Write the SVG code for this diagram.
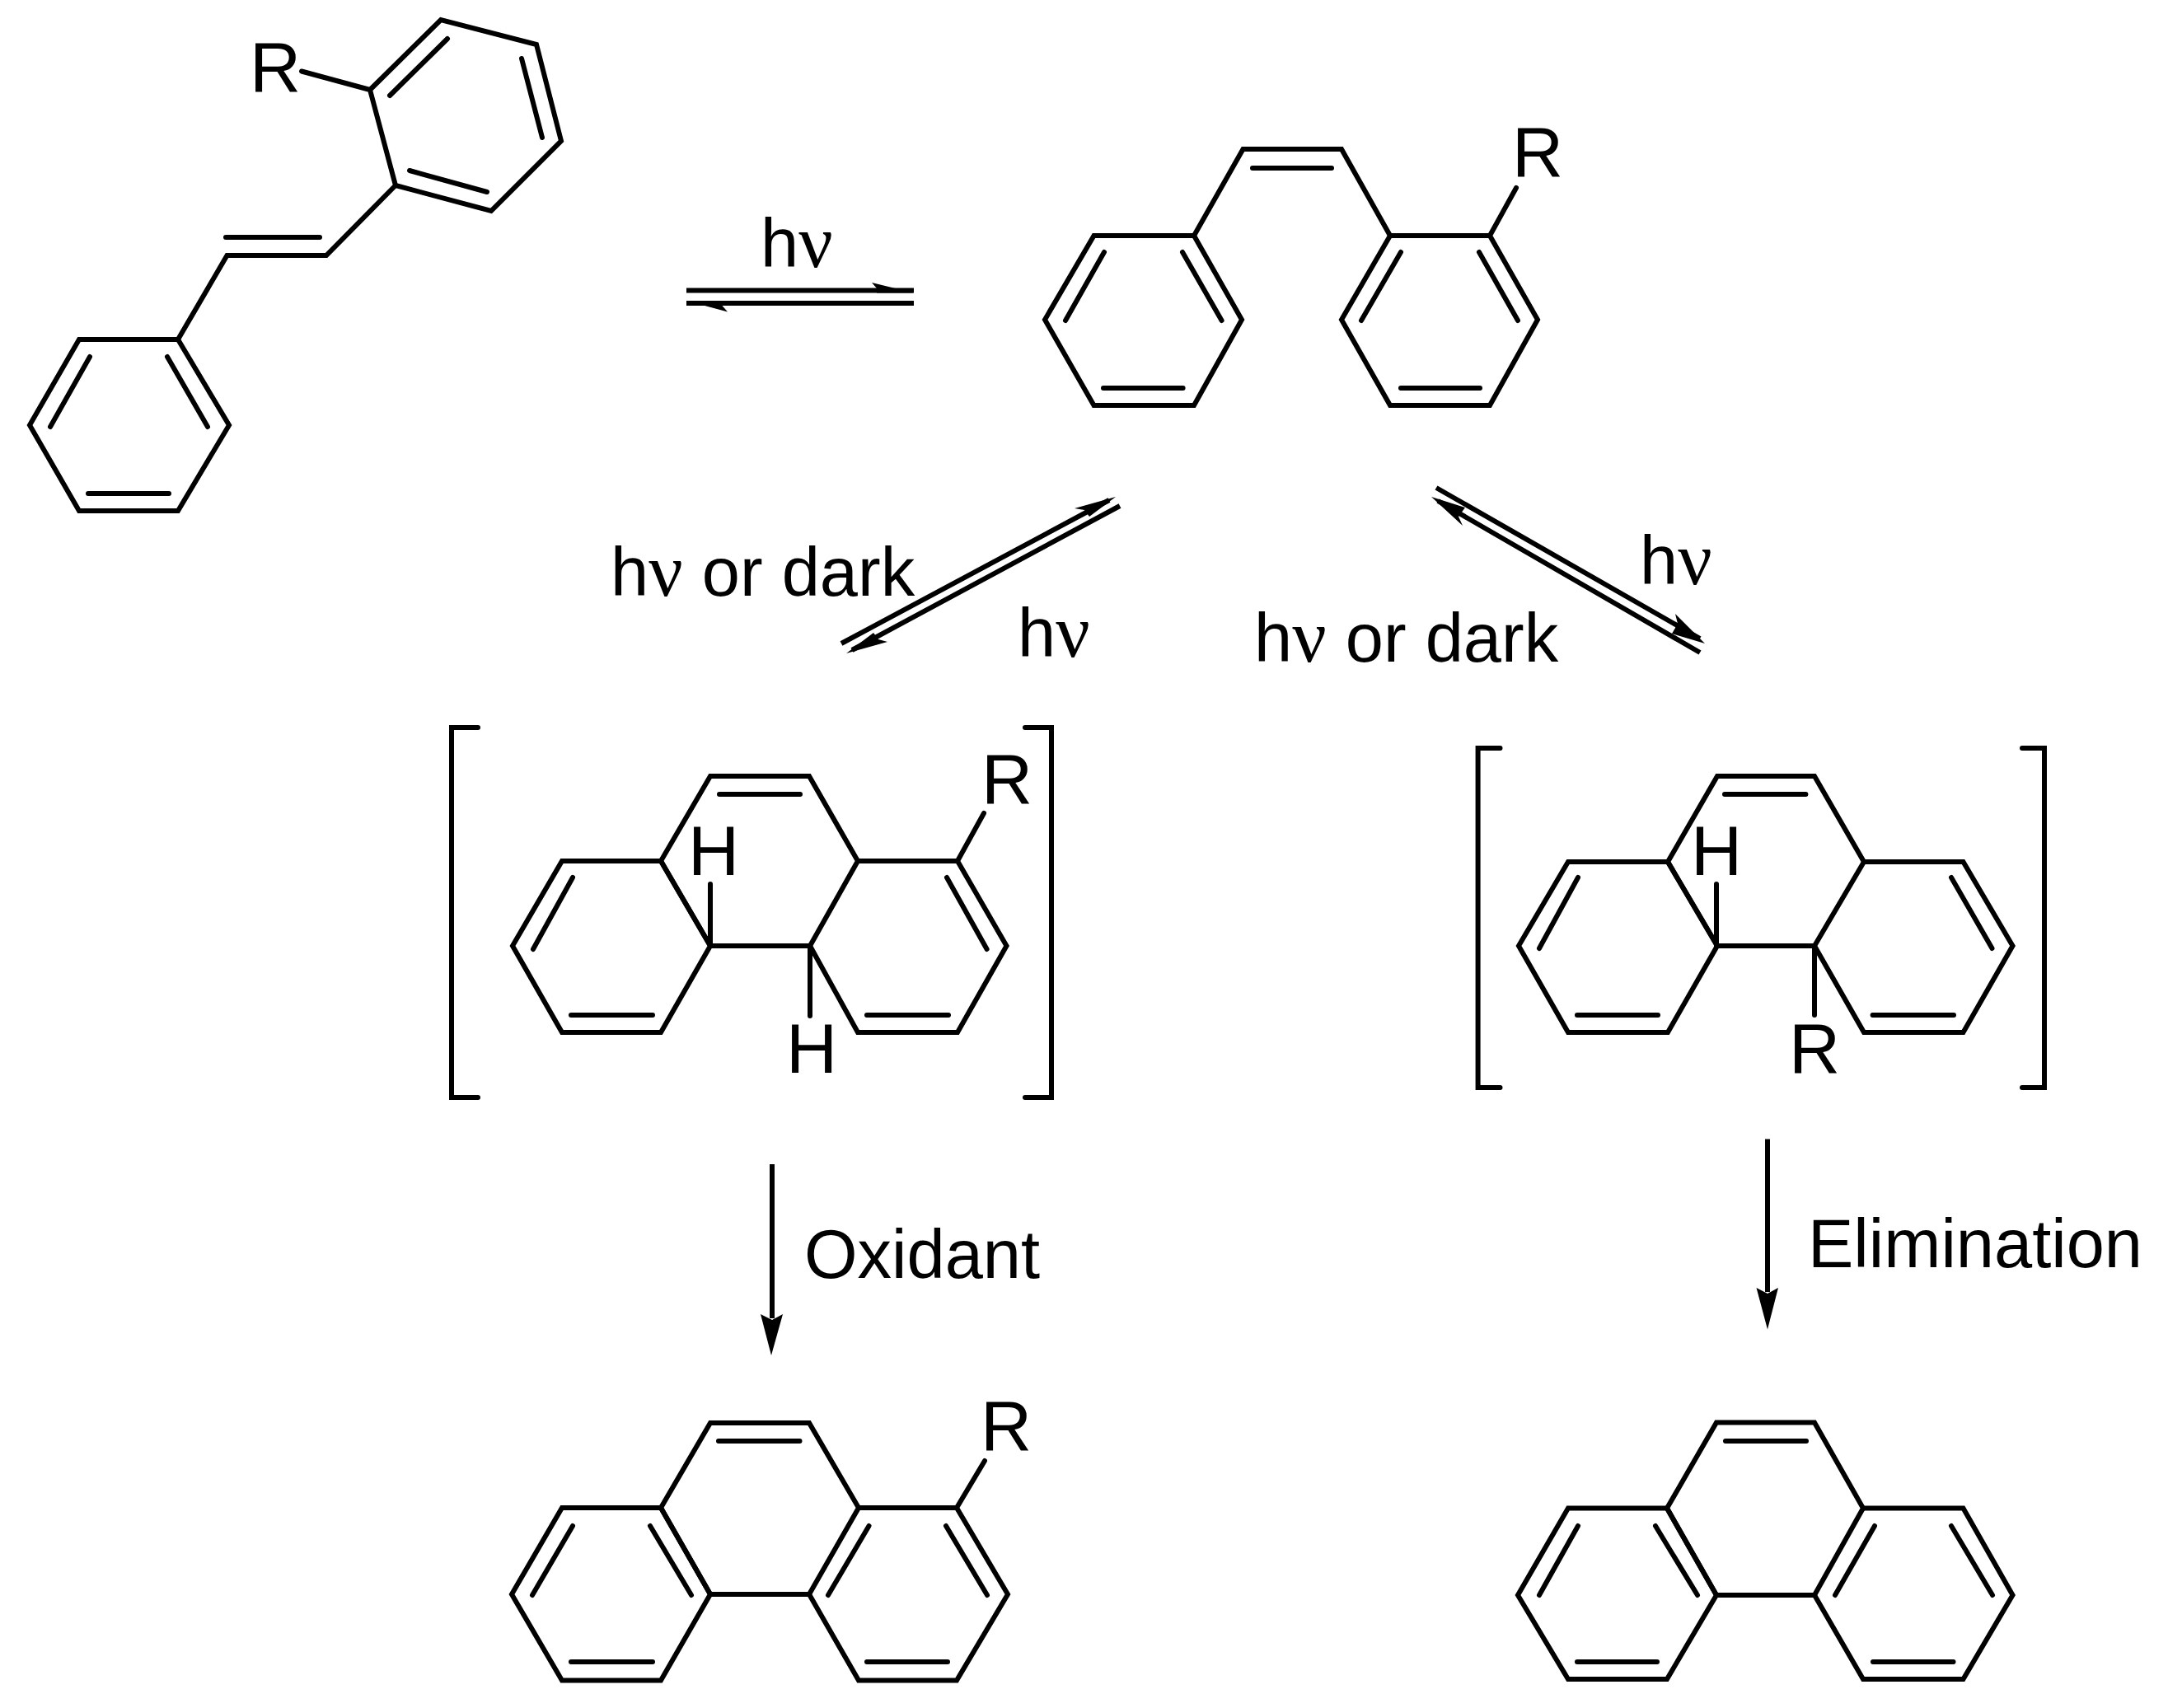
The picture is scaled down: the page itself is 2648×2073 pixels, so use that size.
<svg xmlns="http://www.w3.org/2000/svg" width="2648" height="2073" viewBox="0 0 2648 2073">
<style>
.b{fill:none;stroke:#000;stroke-width:6;stroke-linejoin:miter;stroke-linecap:round}
.a{fill:none;stroke:#000;stroke-width:6;stroke-linecap:butt}
.h{fill:#000;stroke:none}
text{font-family:"Liberation Sans",Arial,Helvetica,sans-serif;font-size:83px;fill:#000}
.atom{font-size:86px}
.nu{font-family:"Liberation Serif","Times New Roman",serif;font-size:92px}
</style>
<rect width="2648" height="2073" fill="#fff"/>
<g id="connectors">
<path class="a" d="M833 352.500H1109M833 368H1109M1021 781L1346 607M1359 614L1034 789M1743 592L2063 775M2063 792L1745 608M937 1413V1600M2145 1382.500V1568"/>
<polygon class="h" points="1109,355.500 1058,343 1064,350 1064,355.500"/>
<polygon class="h" points="833,365 883,378.500 876,370.500 876,365"/>
<polygon class="h" points="1354,603 1304,617 1316,619 1322,627"/>
<polygon class="h" points="1027,793 1077,779 1066,776 1060,768"/>
<polygon class="h" points="2069,781 2033,745 2036,757 2029,769"/>
<polygon class="h" points="1737,603 1775,638 1770,627 1778,616"/>
<polygon class="h" points="936,1645 923,1595 937,1602 950,1595"/>
<polygon class="h" points="2145,1613.500 2131.500,1563 2145,1570 2158,1563"/>
<text x="923" y="324">h<tspan class="nu">ν</tspan></text>
<text x="741" y="723">h<tspan class="nu">ν</tspan> or dark</text>
<text x="1235" y="797">h<tspan class="nu">ν</tspan></text>
<text x="1522" y="803">h<tspan class="nu">ν</tspan> or dark</text>
<text x="1990" y="709">h<tspan class="nu">ν</tspan></text>
<text x="976" y="1551">Oxidant</text>
<text x="2194" y="1538">Elimination</text>
</g>
<g id="trans-stilbene">
<path class="b" d="M449 109L535 24L651 54L681 171L596 256L480 225ZM473 116L543 47M633 71L658 167M497 207L591 233M366 86.500L449 109M480 225L396 310H275.500L216 412M274 288H388"/>
<path class="b" d="M216 412L278 516L216 620H96L36 516L96 412ZM203 433L252 518M109 433L61 518M107 599H205"/>
<text class="atom" x="303" y="111">R</text>
</g>
<g id="cis-stilbene">
<path class="b" d="M1449 286L1508.500 181H1628L1687 286M1520 204H1616"/>
<path class="b" d="M1449 286L1507 388L1449 492H1327.500L1268 388L1327.500 286ZM1435 306L1482.600 389M1340 306L1293 389M1339 471H1435.600"/>
<path class="b" d="M1687 286H1808L1866 388L1808 492H1687L1628 388ZM1795 306L1842 389M1700 306L1652 389M1700 471H1796M1808 286L1840 228"/>
<text class="atom" x="1835" y="214">R</text>
</g>
<g id="dihydro-h">
<path class="b" d="M802 1045L862 942H982L1041 1045L983 1148H862ZM873 964H971"/>
<path class="b" d="M802 1045L862 1148L802 1253H682L622 1148L682 1045ZM695 1065L647 1152M693 1232H792"/>
<path class="b" d="M1041 1045H1162L1221.500 1148L1162 1253H1041L983 1148M1149 1065L1197.600 1152M1052 1232H1151M1162 1045L1194 987"/>
<path class="b" d="M862 1148V1073M983 1148V1233M580 883H548V1332H580M1244 883H1276V1332H1244"/>
<text class="atom" x="835" y="1062">H</text>
<text class="atom" x="954" y="1302">H</text>
<text class="atom" x="1191" y="975">R</text>
</g>
<g id="dihydro-r">
<path class="b" d="M2024 1046L2084 942H2202L2262 1046L2202 1148H2084ZM2093 964H2191.400"/>
<path class="b" d="M2024 1046L2084 1148L2024 1253H1903L1843 1148L1903 1046ZM1915 1065L1868 1151M1914 1232H2012"/>
<path class="b" d="M2262 1046H2382.500L2442.500 1148L2382.500 1253H2262L2202 1148M2368 1065L2417.500 1151M2272.600 1232H2371"/>
<path class="b" d="M2083 1148V1073M2202 1148V1232M1820.500 908H1793.600V1320H1820.500M2454 908H2481V1320H2454"/>
<text class="atom" x="2052" y="1062">H</text>
<text class="atom" x="2171" y="1302">R</text>
</g>
<g id="phenanthrene-r">
<path class="b" d="M802 1830L862 1727H982L1042 1830L982 1935H862ZM872 1749H970.500"/>
<path class="b" d="M802 1830L862 1935L802 2039.500H682L621 1935L682 1830ZM695 1852L646 1936M693 2017H792M789 1852L839 1936"/>
<path class="b" d="M1042 1830H1161L1223 1935L1161 2039.500H1042L982 1935M1054.500 1852L1005 1936M1148 1852L1198 1936M1052 2017H1150M1161 1830L1195 1773"/>
<text class="atom" x="1190" y="1760">R</text>
</g>
<g id="phenanthrene">
<path class="b" d="M2023 1830.500L2083 1726.500H2202L2261 1830.500L2202 1936H2083ZM2094 1749H2192"/>
<path class="b" d="M2023 1830.500L2083 1936L2023 2038H1903L1842 1936L1903 1830.500ZM1915 1852L1868 1936M2009 1852L2060 1936M1914 2017H2011"/>
<path class="b" d="M2261 1830.500H2382.500L2442.500 1936L2382.500 2038H2261L2202 1936M2275 1852L2227 1936M2368 1852L2418 1936M2273 2017H2370.500"/>
</g>
</svg>
